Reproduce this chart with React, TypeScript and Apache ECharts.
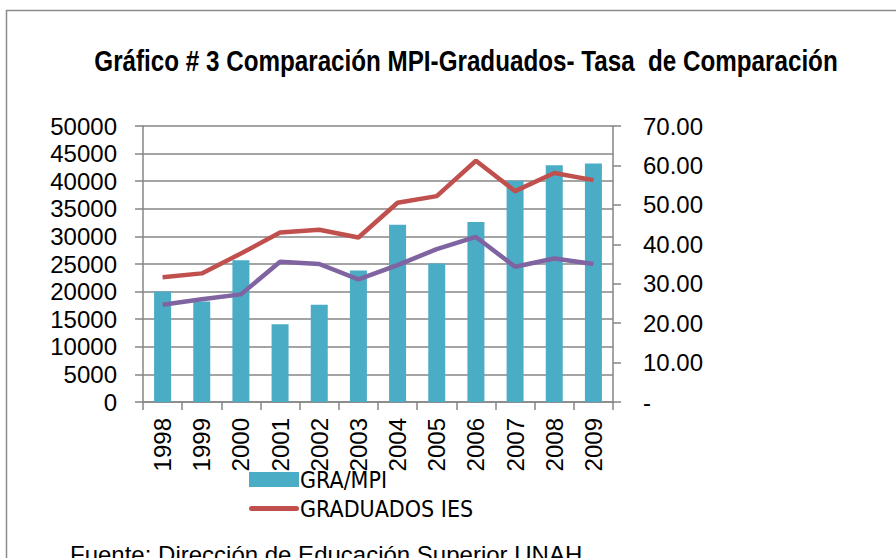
import React, { useEffect, useRef } from "react";
import * as echarts from "echarts";

const categories = ["1998", "1999", "2000", "2001", "2002", "2003", "2004", "2005", "2006", "2007", "2008", "2009"];
const graMpi = [20000, 18200, 25700, 14100, 17600, 23800, 32100, 25100, 32600, 40100, 42900, 43200];
const graduadosIes = [22600, 23300, 26900, 30700, 31200, 29800, 36100, 37300, 43700, 38200, 41500, 40200];
const mpi = [17600, 18600, 19500, 25400, 25000, 22200, 24800, 27700, 29900, 24500, 26000, 25000];
const leftTicks = { min: 0, max: 50000, interval: 5000 };
const rightTicks = { min: 0, max: 70, interval: 10 };

const TITLE = "Gráfico # 3 Comparación MPI-Graduados- Tasa  de Comparación";
const SOURCE = "Fuente: Dirección de Educación Superior UNAH";

const FONT = "'Liberation Sans', Arial, sans-serif";
const NARROW = "'Liberation Sans Narrow', 'Arial Narrow', 'DejaVu Sans Condensed', sans-serif";
const AXIS = "#868686";

export default function App() {
  const ref = useRef<HTMLDivElement>(null);
  useEffect(() => {
    if (!ref.current) return;
    const chart = echarts.init(ref.current, null, { renderer: "svg" });
    chart.setOption({
      animation: false,
      backgroundColor: "#ffffff",
      textStyle: { fontFamily: FONT },
      graphic: [
        {
          type: "rect",
          shape: { x: 6.5, y: 10.5, width: 1000, height: 1000 },
          style: { fill: "none", stroke: "#8c8c8c", lineWidth: 1.5 },
          silent: true,
          z: -1,
        },
        {
          type: "text",
          x: 466,
          y: 61,
          scaleX: 0.835,
          scaleY: 1,
          style: {
            text: TITLE,
            font: `bold 29px ${FONT}`,
            fill: "#000",
            textAlign: "center",
            textVerticalAlign: "middle",
          },
        },
        {
          type: "text",
          left: 70,
          top: 542,
          style: { text: SOURCE, font: `24px ${FONT}`, fill: "#000" },
        },
      ],
      legend: {
        data: [
          { name: "GRA/MPI", icon: "rect" },
          { name: "GRADUADOS IES", icon: "path://M2.5,0 L47.5,0 A2.5,2.5 0 0 1 47.5,5 L2.5,5 A2.5,2.5 0 0 1 2.5,0 Z" },
        ],
        orient: "vertical",
        left: 244,
        top: 462,
        itemWidth: 50,
        itemHeight: 15,
        itemGap: 4,
        textStyle: { fontFamily: NARROW, fontSize: 23, color: "#000", lineHeight: 25, padding: [0, 0, 0, -4] },
      },
      grid: { left: 143, right: 283, top: 126, bottom: 156, containLabel: false },
      xAxis: {
        type: "category",
        data: categories,
        boundaryGap: true,
        axisLine: { lineStyle: { color: AXIS, width: 1.5 } },
        axisTick: { show: true, length: 8, interval: 0, lineStyle: { color: AXIS, width: 1.5 } },
        axisLabel: { rotate: 90, fontSize: 24, color: "#000", margin: 16, interval: 0, fontFamily: FONT },
      },
      yAxis: [
        {
          type: "value",
          min: leftTicks.min,
          max: leftTicks.max,
          interval: leftTicks.interval,
          axisLine: { show: true, lineStyle: { color: AXIS, width: 1.5 } },
          axisTick: { show: true, length: 8, lineStyle: { color: AXIS, width: 1.5 } },
          axisLabel: { fontSize: 24, color: "#000", margin: 26, fontFamily: FONT, formatter: (v: number) => String(v) },
          splitLine: { show: true, lineStyle: { color: AXIS, width: 1.5 } },
        },
        {
          type: "value",
          min: rightTicks.min,
          max: rightTicks.max,
          interval: rightTicks.interval,
          position: "right",
          axisLine: { show: true, lineStyle: { color: AXIS, width: 1.5 } },
          axisTick: { show: true, length: 8, lineStyle: { color: AXIS, width: 1.5 } },
          axisLabel: {
            fontSize: 24,
            color: "#000",
            margin: 30,
            fontFamily: FONT,
            formatter: (v: number) => (v === 0 ? "-" : v.toFixed(2)),
          },
          splitLine: { show: false },
        },
      ],
      series: [
        {
          name: "GRA/MPI",
          type: "bar",
          data: graMpi,
          barWidth: 17,
          itemStyle: { color: "#4BACC6" },
          yAxisIndex: 0,
        },
        {
          name: "GRADUADOS IES",
          type: "line",
          data: graduadosIes,
          symbol: "none",
          lineStyle: { color: "#C0504D", width: 4.5 },
          itemStyle: { color: "#C0504D" },
          yAxisIndex: 0,
        },
        {
          name: "MPI",
          type: "line",
          data: mpi,
          symbol: "none",
          lineStyle: { color: "#8064A2", width: 4.5 },
          itemStyle: { color: "#8064A2" },
          yAxisIndex: 0,
        },
      ],
    });
    return () => chart.dispose();
  }, []);
  return <div ref={ref} style={{ width: 896, height: 558, position: "fixed", left: 0, top: 0 }} />;
}
